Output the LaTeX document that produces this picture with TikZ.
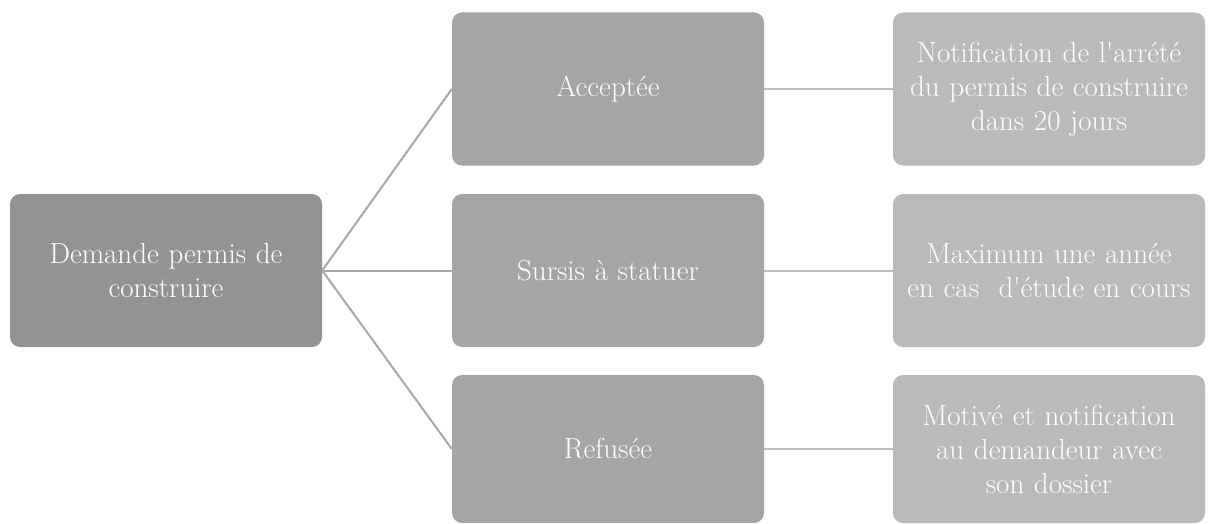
\documentclass[tikz,border=0pt]{standalone}
\usepackage{fontspec}
\setmainfont{Latin Modern Roman}[Ligatures=TeXOff]
\usepackage{xcolor}
\definecolor{rootc}{HTML}{939393}
\definecolor{midc}{HTML}{A5A5A5}
\definecolor{rightc}{HTML}{BABABA}
\definecolor{lineL}{HTML}{A8A8A8}
\definecolor{lineR}{HTML}{BDBDBD}
\begin{document}
\begin{tikzpicture}[x=1pt,y=-1pt,
  box/.style={rounded corners=10pt, minimum width=312pt, minimum height=153pt,
    text width=308pt, align=center, text=white, inner sep=0pt,
    font=\fontsize{29}{34}\selectfont},
  rootbox/.style={box, fill=rootc},
  midbox/.style={box, fill=midc},
  rightbox/.style={box, fill=rightc},
  connL/.style={draw=lineL, line width=2pt},
  connR/.style={draw=lineR, line width=2pt}]
\useasboundingbox (0,0) rectangle (1212,524);
\node[rootbox] (root) at (166,270.5) {Demande permis de\\construire};
\node[midbox] (acc) at (608,89) {Acceptée};
\node[midbox] (sur) at (608,270.5) {Sursis à statuer};
\node[midbox, minimum height=148pt] (ref) at (608,449) {Refusée};
\node[rightbox] (notif) at (1049,89) {Notification de l'arrété\\du permis de construire\\dans 20 jours};
\node[rightbox] (max) at (1049,270.5) {Maximum une année\\en cas\ \ d'étude en cours};
\node[rightbox, minimum height=148pt] (mot) at (1049,449) {Motivé et notification\\au demandeur avec\\son dossier};
\draw[connL] (root.east) -- (acc.west);
\draw[connL] (root.east) -- (sur.west);
\draw[connL] (root.east) -- (ref.west);
\draw[connR] (acc.east) -- (notif.west);
\draw[connR] (sur.east) -- (max.west);
\draw[connR] (ref.east) -- (mot.west);
\end{tikzpicture}
\end{document}
